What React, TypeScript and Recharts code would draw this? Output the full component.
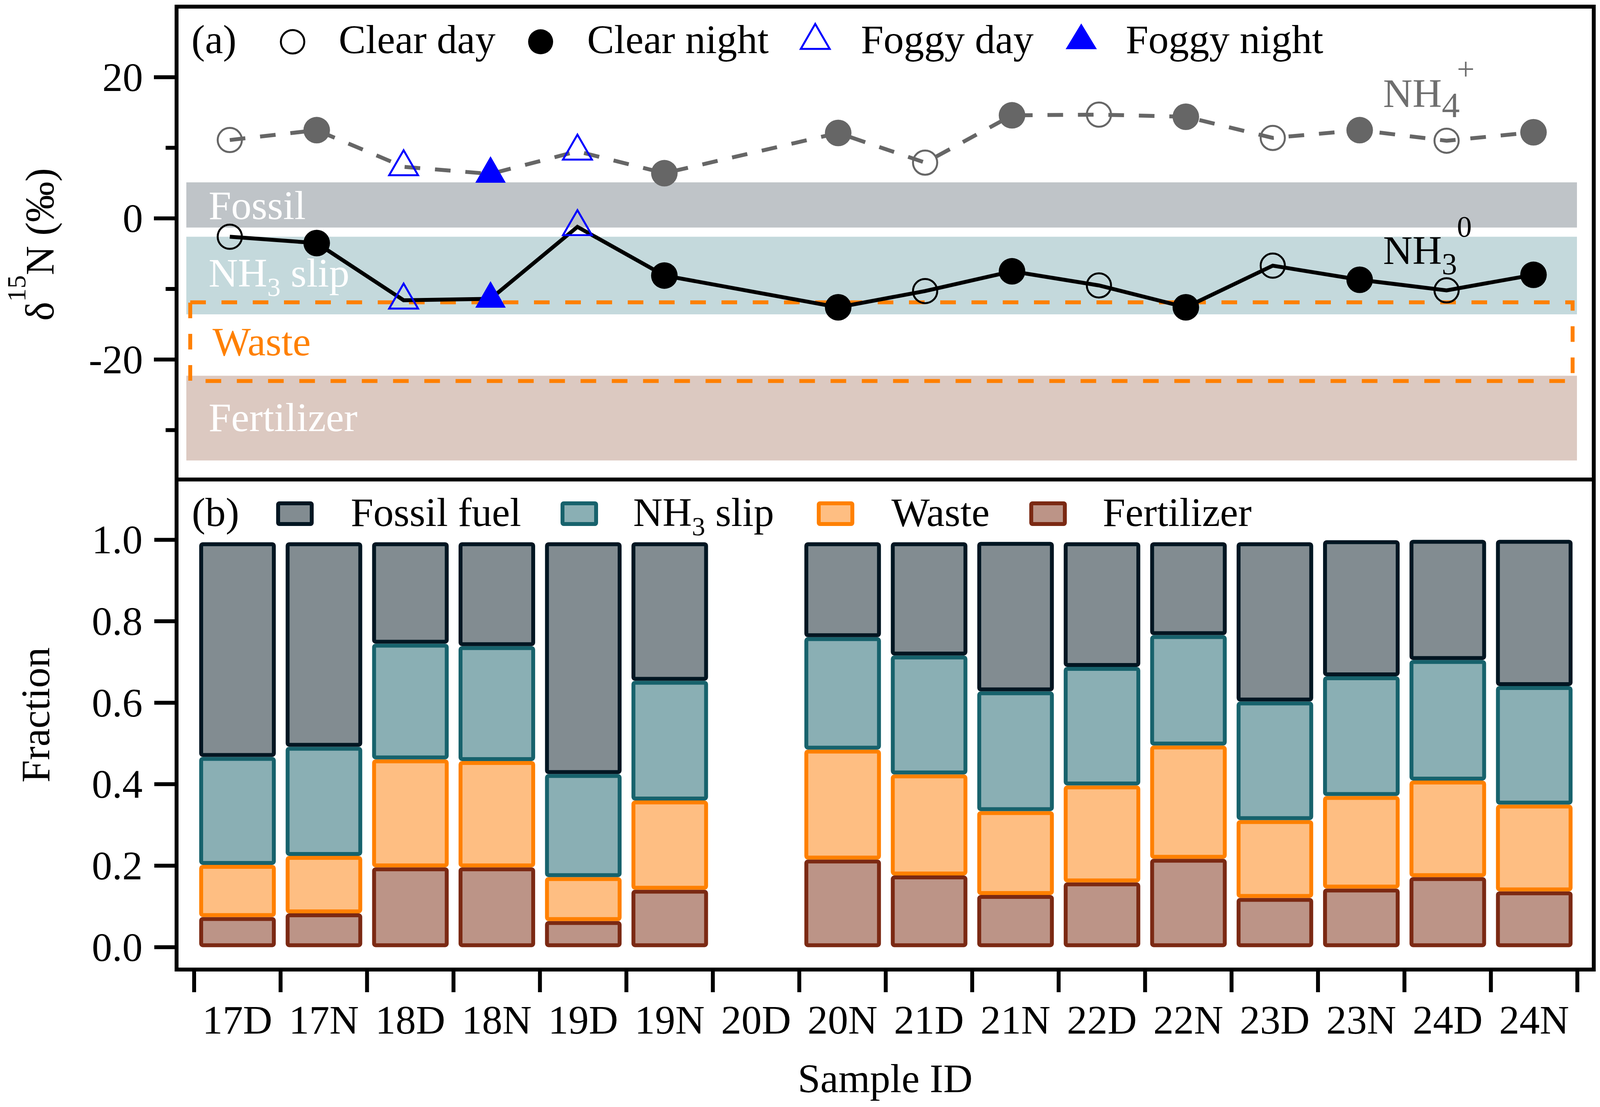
import React from "react";
import {
  Bar,
  BarChart,
  ComposedChart,
  Line,
  ReferenceArea,
  ReferenceDot,
  XAxis,
  YAxis,
} from "recharts";

const FONT = '"Liberation Serif", "Times New Roman", Times, serif';
const FS = 104;

const sampleIds = ["17D", "17N", "18D", "18N", "19D", "19N", "20D", "20N", "21D", "21N", "22D", "22N", "23D", "23N", "24D", "24N"];
const weather = ["CD", "CN", "FD", "FN", "FD", "CN", null, "CN", "CD", "CN", "CD", "CN", "CD", "CN", "CD", "CN"];

// d15N (permil)
const nh4 = [11.1, 12.5, 7.3, 6.3, 9.5, 6.4, null, 12.1, 7.9, 14.6, 14.7, 14.4, 11.4, 12.5, 11.0, 12.2];
const nh3 = [-2.6, -3.5, -11.6, -11.4, -1.2, -8.1, null, -12.6, -10.3, -7.5, -9.5, -12.6, -6.7, -8.7, -10.2, -8.0];

// source fractions
const fertilizer = [0.074, 0.083, 0.196, 0.196, 0.064, 0.141, null, 0.215, 0.176, 0.128, 0.159, 0.217, 0.121, 0.144, 0.172, 0.137];
const waste = [0.128, 0.141, 0.265, 0.261, 0.108, 0.219, null, 0.270, 0.248, 0.206, 0.238, 0.278, 0.191, 0.227, 0.237, 0.213];
const nh3Slip = [0.265, 0.268, 0.284, 0.282, 0.253, 0.294, null, 0.276, 0.292, 0.294, 0.291, 0.271, 0.291, 0.294, 0.296, 0.291];
const fossilFuel = [0.527, 0.502, 0.249, 0.255, 0.569, 0.340, null, 0.233, 0.278, 0.367, 0.306, 0.228, 0.391, 0.334, 0.295, 0.359];

const topTicks = [-30, -20, -10, 0, 10, 20];
const fracTicks = [0, 0.2, 0.4, 0.6, 0.8, 1.0];

const topData = sampleIds.map((id, i) => ({ i, id, cond: weather[i], nh4: nh4[i], nh3: nh3[i] }));
const barData = sampleIds.map((id, i) => ({
  id,
  fertilizer: fertilizer[i],
  waste: waste[i],
  slip: nh3Slip[i],
  fossil: fossilFuel[i],
}));

const BLUE = "#0000FF";
const GRAY = "#666666";

function Triangle({ cx, cy, w, h, filled, color }) {
  const pts = `${cx},${cy - (2 * h) / 3} ${cx - w / 2},${cy + h / 3} ${cx + w / 2},${cy + h / 3}`;
  return filled ? (
    <polygon points={pts} fill={color} />
  ) : (
    <polygon points={pts} fill="none" stroke={color} strokeWidth={5} strokeLinejoin="miter" />
  );
}

function makeDot(color) {
  return (props) => {
    const { cx, cy, payload, index } = props;
    if (cx == null || cy == null || payload == null || payload.cond == null) return <g key={`d${index}`} />;
    const c = payload.cond;
    if (c === "CD") return <circle key={`d${index}`} cx={cx} cy={cy} r={31} fill="none" stroke={color} strokeWidth={5} />;
    if (c === "CN") return <circle key={`d${index}`} cx={cx} cy={cy} r={34} fill={color} />;
    if (c === "FD")
      return (
        <g key={`d${index}`}>
          <Triangle cx={cx} cy={cy} w={74} h={64} color={BLUE} />
        </g>
      );
    return (
      <g key={`d${index}`}>
        <Triangle cx={cx} cy={cy} w={78} h={68} filled color={BLUE} />
      </g>
    );
  };
}

function TopYTick(props) {
  const { x, y, payload } = props;
  const v = payload.value;
  const major = v % 20 === 0;
  return (
    <g>
      <line x1={x - (major ? 58 : 28)} x2={x} y1={y} y2={y} stroke="#000" strokeWidth={10} />
      {major && (
        <text x={x - 86} y={y} dy={35} textAnchor="end" fontSize={FS} fontFamily={FONT} fill="#000">
          {v}
        </text>
      )}
    </g>
  );
}

function FracYTick(props) {
  const { x, y, payload } = props;
  return (
    <g>
      <line x1={x - 57} x2={x} y1={y} y2={y} stroke="#000" strokeWidth={10} />
      <text x={x - 87} y={y} dy={35} textAnchor="end" fontSize={FS} fontFamily={FONT} fill="#000">
        {Number(payload.value).toFixed(1)}
      </text>
    </g>
  );
}

const BAND = (4038 - 497) / sampleIds.length;

function SampleTick(props) {
  const { x, y, payload, index } = props;
  const last = index === sampleIds.length - 1;
  return (
    <g>
      <line x1={x - BAND / 2} x2={x - BAND / 2} y1={y} y2={y + 58} stroke="#000" strokeWidth={10} />
      {last && <line x1={x + BAND / 2} x2={x + BAND / 2} y1={y} y2={y + 58} stroke="#000" strokeWidth={10} />}
      <text x={x} y={y + 164} textAnchor="middle" fontSize={FS} fontFamily={FONT} fill="#000">
        {payload.value}
      </text>
    </g>
  );
}

function bandLabel(text, offset, color, sub) {
  return (props) => {
    const vb = props.viewBox || {};
    const x = (vb.x || 0) + 57;
    const y = (vb.y || 0) + offset;
    return (
      <text x={x} y={y} fontSize={FS} fontFamily={FONT} fill={color}>
        {text}
        {sub && (
          <>
            <tspan dy={24} fontSize={68}>
              {sub}
            </tspan>
            <tspan dy={-24}> slip</tspan>
          </>
        )}
      </text>
    );
  };
}

function speciesLabel(sub, subSize, sup, supSize, color) {
  return (props) => {
    const vb = props.viewBox || {};
    const cx = (vb.x || 0) + (vb.width || 0) / 2;
    const cy = (vb.y || 0) + (vb.height || 0) / 2;
    return (
      <g fontFamily={FONT} fill={color}>
        <text x={cx} y={cy} fontSize={FS}>
          NH
          <tspan dy={26} fontSize={subSize}>
            {sub}
          </tspan>
        </text>
        <text x={cx + 189} y={cy - 70} fontSize={supSize}>
          {sup}
        </text>
      </g>
    );
  };
}

function stackShape(fill, stroke) {
  return (props) => {
    const { x, y, width, height } = props;
    if (!height || height <= 10 || !width) return <g />;
    return (
      <rect x={x + 5} y={y + 5} width={width - 10} height={height - 10} rx={4} ry={4} fill={fill} stroke={stroke} strokeWidth={10} />
    );
  };
}

const deltaLabel = () => (
  <text x={137} y={626} transform="rotate(-90, 137, 626)" textAnchor="middle" fontSize={FS} fontFamily={FONT} fill="#000">
    δ
    <tspan dy={-72} fontSize={68}>
      15
    </tspan>
    <tspan dy={72}>N (‰)</tspan>
  </text>
);

const fractionLabel = () => (
  <text x={126} y={705} transform="rotate(-90, 126, 705)" textAnchor="middle" fontSize={FS} fontFamily={FONT} fill="#000">
    Fraction
  </text>
);

function TopPanel() {
  return (
    <ComposedChart width={4099} height={1240} data={topData} margin={{ top: 17, right: 19, bottom: 12, left: 0 }}>
      <XAxis type="number" dataKey="i" domain={[-0.5, 15.5]} hide padding={{ left: 25, right: 43 }} allowDataOverflow />
      <YAxis
        type="number"
        domain={[-37, 30]}
        ticks={topTicks}
        interval={0}
        width={452}
        axisLine={false}
        tickLine={false}
        tickSize={0}
        tickMargin={0}
        tick={(p) => <TopYTick {...p} />}
        allowDataOverflow
        label={deltaLabel}
      />
      <ReferenceArea x1={-0.5} x2={15.5} y1={-1.3} y2={5.1} fill="#BFC4C8" fillOpacity={1} stroke="none" label={bandLabel("Fossil", 94, "#FFFFFF")} />
      <ReferenceArea x1={-0.5} x2={15.5} y1={-13.6} y2={-2.6} fill="#C4D9DC" fillOpacity={1} stroke="none" label={bandLabel("NH", 128, "#FFFFFF", "3")} />
      <ReferenceArea x1={-0.5} x2={15.5} y1={-34.3} y2={-22.3} fill="#DCC9C1" fillOpacity={1} stroke="none" label={bandLabel("Fertilizer", 142, "#FFFFFF")} />
      <ReferenceArea
        x1={-0.455}
        x2={15.45}
        y1={-23.05}
        y2={-11.9}
        fill="none"
        fillOpacity={0}
        stroke="#FF8000"
        strokeWidth={10}
        strokeDasharray="40 40"
        label={bandLabel("Waste", 136, "#FF8000")}
      />
      <ReferenceDot x={13.27} y={15.78} r={1} fill="none" stroke="none" label={speciesLabel("4", 92, "+", 80, "#6E6E6E")} />
      <ReferenceDot x={13.27} y={-6.46} r={1} fill="none" stroke="none" label={speciesLabel("3", 78, "0", 76, "#000000")} />
      <Line
        dataKey="nh4"
        type="linear"
        stroke={GRAY}
        strokeWidth={10}
        strokeDasharray="40 38"
        connectNulls
        dot={makeDot(GRAY)}
        activeDot={false}
        isAnimationActive={false}
      />
      <Line
        dataKey="nh3"
        type="linear"
        stroke="#000000"
        strokeWidth={10}
        connectNulls
        dot={makeDot("#000000")}
        activeDot={false}
        isAnimationActive={false}
      />
      <g fontFamily={FONT} fontSize={FS} fill="#000">
        <text x={490} y={136}>(a)</text>
        <circle cx={749} cy={107} r={30} fill="none" stroke="#000" strokeWidth={5} />
        <text x={867} y={136}>Clear day</text>
        <circle cx={1384} cy={107} r={32} fill="#000" />
        <text x={1503} y={136}>Clear night</text>
        <Triangle cx={2087} cy={104} w={74} h={64} color={BLUE} />
        <text x={2204} y={136}>Foggy day</text>
        <Triangle cx={2768} cy={104} w={80} h={66} filled color={BLUE} />
        <text x={2882} y={136}>Foggy night</text>
      </g>
    </ComposedChart>
  );
}

const legendB = [
  { x: 707, tx: 898, fill: "#828C91", stroke: "#021622", text: "Fossil fuel" },
  { x: 1435, tx: 1621, fill: "#8AAFB4", stroke: "#17626C", text: "NH3 slip" },
  { x: 2091, tx: 2282, fill: "#FEBE82", stroke: "#FF8000", text: "Waste" },
  { x: 2635, tx: 2823, fill: "#BC9487", stroke: "#7B2913", text: "Fertilizer" },
];

function BottomPanel() {
  return (
    <BarChart width={4099} height={1709} data={barData} margin={{ top: 100, right: 19, bottom: 0, left: 0 }} barSize={196}>
      <XAxis
        dataKey="id"
        type="category"
        padding={{ left: 45, right: 42 }}
        height={352}
        axisLine={false}
        tickLine={false}
        tickSize={0}
        tickMargin={0}
        interval={0}
        tick={(p) => <SampleTick {...p} />}
        label={{ value: "Sample ID", position: "insideBottom", offset: 38, fontSize: FS, fill: "#000", fontFamily: FONT }}
      />
      <YAxis
        type="number"
        domain={[-0.055, 1.15]}
        ticks={fracTicks}
        interval={0}
        width={452}
        axisLine={false}
        tickLine={false}
        tickSize={0}
        tickMargin={0}
        tick={(p) => <FracYTick {...p} />}
        allowDataOverflow
        label={fractionLabel}
      />
      <Bar dataKey="fertilizer" stackId="s" shape={stackShape("#BC9487", "#7B2913")} isAnimationActive={false} />
      <Bar dataKey="waste" stackId="s" shape={stackShape("#FEBE82", "#FF8000")} isAnimationActive={false} />
      <Bar dataKey="slip" stackId="s" shape={stackShape("#8AAFB4", "#17626C")} isAnimationActive={false} />
      <Bar dataKey="fossil" stackId="s" shape={stackShape("#828C91", "#021622")} isAnimationActive={false} />
      <g fontFamily={FONT} fontSize={FS} fill="#000">
        <text x={491} y={221}>(b)</text>
        {legendB.map((d) => (
          <g key={d.text}>
            <rect x={d.x + 5} y={163} width={86} height={53} rx={3} fill={d.fill} stroke={d.stroke} strokeWidth={10} />
            {d.text === "NH3 slip" ? (
              <text x={d.tx} y={221}>
                NH
                <tspan dy={24} fontSize={68}>
                  3
                </tspan>
                <tspan dy={-24}> slip</tspan>
              </text>
            ) : (
              <text x={d.tx} y={221}>{d.text}</text>
            )}
          </g>
        ))}
      </g>
    </BarChart>
  );
}

export default function App() {
  return (
    <div style={{ position: "absolute", left: 0, top: 0, width: 4099, height: 2835, background: "#fff", fontFamily: FONT }}>
      <div style={{ position: "absolute", left: 0, top: 0 }}>
        <TopPanel />
      </div>
      <div style={{ position: "absolute", left: 0, top: 1126 }}>
        <BottomPanel />
      </div>
      <div
        style={{ position: "absolute", left: 447, top: 12, width: 3638, height: 1221, border: "10px solid #000", boxSizing: "border-box", pointerEvents: "none" }}
      />
      <div
        style={{ position: "absolute", left: 447, top: 1223, width: 3638, height: 1265, border: "10px solid #000", boxSizing: "border-box", pointerEvents: "none" }}
      />
    </div>
  );
}
